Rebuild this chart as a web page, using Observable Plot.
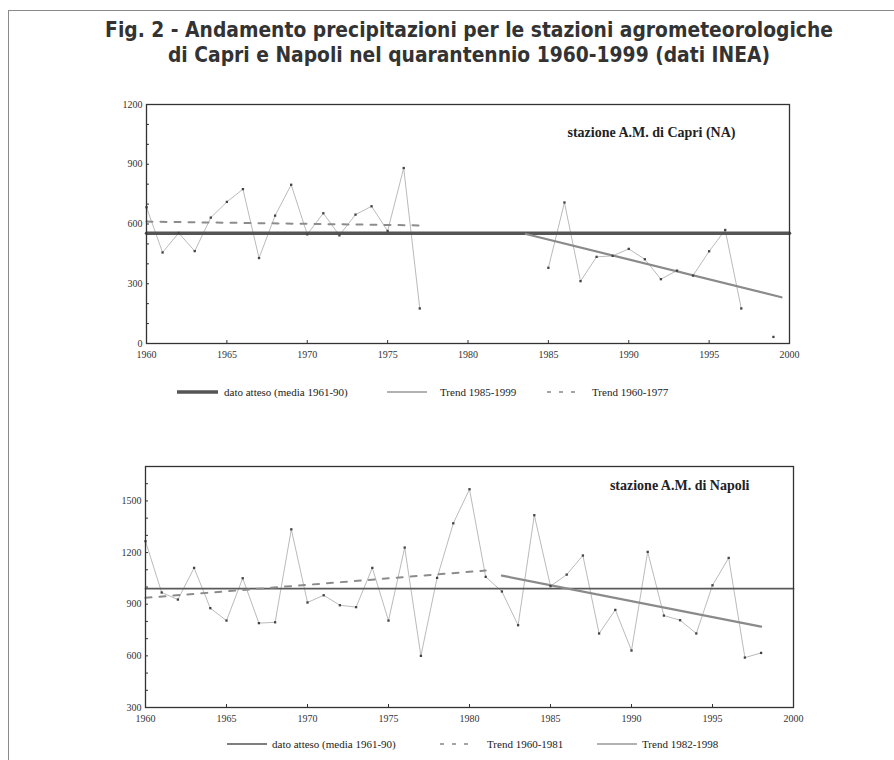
<!DOCTYPE html>
<html><head><meta charset="utf-8">
<script src="https://cdn.jsdelivr.net/npm/d3@7"></script>
<script src="https://cdn.jsdelivr.net/npm/@observablehq/plot@0.6"></script>
<style>
body{margin:0;width:894px;height:760px;position:relative;background:#fff;overflow:hidden;font-family:"Liberation Serif","Times New Roman",serif}
#border{position:absolute;left:8px;top:10px;width:900px;height:800px;border-left:1.5px solid #8a8a8a;border-top:1.5px solid #8a8a8a}
#title{position:absolute;left:22px;width:894px;top:18px;text-align:center;font-family:"DejaVu Sans Condensed","Liberation Sans Narrow",sans-serif;font-stretch:condensed;font-weight:bold;font-size:20.8px;line-height:25px;color:#333}
.chart{position:absolute;left:0}
.leg{position:absolute;font-size:11px;color:#222;white-space:nowrap;line-height:12px}
.sw{position:absolute}
</style></head>
<body>
<div id="border"></div>
<div id="title">Fig. 2 - Andamento precipitazioni per le stazioni agrometeorologiche<br>di Capri e Napoli nel quarantennio 1960-1999 (dati INEA)</div>
<div id="top" class="chart" style="top:90px"></div>
<div id="bot" class="chart" style="top:450px"></div>

<svg class="sw" style="left:0;top:0" width="894" height="760" id="legsvg"></svg>
<div class="leg" style="left:224px;top:386px">dato atteso (media 1961-90)</div>
<div class="leg" style="left:440px;top:386px">Trend 1985-1999</div>
<div class="leg" style="left:592px;top:386px">Trend 1960-1977</div>
<div class="leg" style="left:272px;top:738px">dato atteso (media 1961-90)</div>
<div class="leg" style="left:487px;top:738px">Trend 1960-1981</div>
<div class="leg" style="left:642px;top:738px">Trend 1982-1998</div>

<script>
// ---- data ----
const years = [1960,1961,1962,1963,1964,1965,1966,1967,1968,1969,1970,1971,1972,1973,1974,1975,1976,1977,1978,1979,1980,1981,1982,1983,1984,1985,1986,1987,1988,1989,1990,1991,1992,1993,1994,1995,1996,1997,1998,1999];
const capri = [684,457,555,464,632,711,775,429,642,797,548,654,543,647,689,565,881,176,null,null,null,null,null,null,null,380,708,313,435,440,475,423,323,366,341,463,570,176,null,33];
const napoli = [1266,968,927,1111,877,805,1051,790,795,1335,910,952,894,883,1111,805,1229,600,1053,1370,1568,1059,974,778,1417,1005,1072,1183,730,867,631,1204,834,807,730,1010,1169,590,617,null];

const capriMeanYears = [1960,2000], capriMeanValues = [553,553];
const capriTrendAYears = [1960,1977], capriTrendAValues = [612,593];
const capriTrendBYears = [1983.6,1999.5], capriTrendBValues = [550,232];
const napoliMeanYears = [1960,2000], napoliMeanValues = [991,991];
const napoliTrendAYears = [1960,1981], napoliTrendAValues = [937,1096];
const napoliTrendBYears = [1982,1998], napoliTrendBValues = [1066,770];

const xTicks = [1960,1965,1970,1975,1980,1985,1990,1995,2000];
const capriYTicks = [0,300,600,900,1200];
const capriYMinor = [100,200,400,500,700,800,1000,1100];
const napoliYTicks = [300,600,900,1200,1500];
const napoliYMinor = [400,500,700,800,1000,1100,1300,1400,1600];

const capriLabel = "stazione A.M. di Capri (NA)";
const napoliLabel = "stazione A.M. di Napoli";

const pts = (xs, ys) => xs.map((x,i)=>({x, y: ys[i]}));
const serif = "Liberation Serif, Times New Roman, serif";

function chart({series, ydomain, yTicks, yMinor, mean, meanStyle, trendA, trendB, label, labelDx, labelDy, height, mt, mb, ml, mr}) {
  const data = pts(years, series);
  const innerH = height - mt - mb, innerW = 894 - ml - mr;
  return Plot.plot({
    width: 894, height, marginTop: mt, marginBottom: mb, marginLeft: ml, marginRight: mr,
    style: {fontFamily: serif, fontSize: "10px", color: "#333", background: "transparent"},
    x: {domain: [1960, 2000], label: null},
    y: {domain: ydomain, label: null},
    marks: [
      Plot.line(data, {x: "x", y: "y", stroke: "#a8a8a8", strokeWidth: 0.8}),
      Plot.line(mean, {x: "x", y: "y", ...meanStyle}),
      Plot.line(trendA, {x: "x", y: "y", stroke: "#8c8c8c", strokeWidth: 2, strokeDasharray: "6,8"}),
      Plot.line(trendB, {x: "x", y: "y", stroke: "#8a8a8a", strokeWidth: 2.2}),
      Plot.dot(data.filter(d => d.y != null), {x: "x", y: "y", symbol: "square", r: 1.3, fill: "#444", stroke: "none"}),
      Plot.tickX(xTicks, {x: d => d, stroke: "#333", insetTop: innerH - 3}),
      Plot.tickY(yMinor.concat(yTicks), {y: d => d, stroke: "#333", insetRight: innerW - 3}),
      Plot.frame({stroke: "#333", strokeWidth: 1.3}),
      Plot.axisX(xTicks, {tickSize: 0, tickPadding: 7, tickFormat: d => String(d), fontSize: 10, fill: "#333", label: null}),
      Plot.axisY(yTicks, {tickSize: 0, tickPadding: 4, tickFormat: d => String(d), fontSize: 10, fill: "#333", label: null}),
      Plot.text([label], {text: d => d, frameAnchor: "top-right", dx: labelDx, dy: labelDy, textAnchor: "end", lineAnchor: "middle", fontWeight: "bold", fontSize: 14, fontFamily: serif, fill: "#222"})
    ]
  });
}

document.getElementById("top").append(chart({
  series: capri, ydomain: [0, 1200], yTicks: capriYTicks, yMinor: capriYMinor,
  mean: pts(capriMeanYears, capriMeanValues), meanStyle: {stroke: "#555", strokeWidth: 3.5},
  trendA: pts(capriTrendAYears, capriTrendAValues), trendB: pts(capriTrendBYears, capriTrendBValues),
  label: capriLabel, labelDx: -54, labelDy: 28,
  height: 280, mt: 14, mb: 27, ml: 146, mr: 105
}));

document.getElementById("bot").append(chart({
  series: napoli, ydomain: [300, 1700], yTicks: napoliYTicks, yMinor: napoliYMinor,
  mean: pts(napoliMeanYears, napoliMeanValues), meanStyle: {stroke: "#5a5a5a", strokeWidth: 1.8},
  trendA: pts(napoliTrendAYears, napoliTrendAValues), trendB: pts(napoliTrendBYears, napoliTrendBValues),
  label: napoliLabel, labelDx: -44, labelDy: 19,
  height: 290, mt: 16, mb: 33, ml: 145, mr: 101
}));

// legend swatches
const lg = d3.select("#legsvg");
const swatches = [
  {x1:177,x2:218,y:392,stroke:"#555",w:3.5,dash:null},
  {x1:387,x2:427,y:392,stroke:"#999",w:1.5,dash:null},
  {x1:547,x2:578,y:392,stroke:"#888",w:1.5,dash:"4,8"},
  {x1:227,x2:267,y:744,stroke:"#555",w:1.5,dash:null},
  {x1:440,x2:472,y:744,stroke:"#888",w:1.5,dash:"4,8"},
  {x1:597,x2:637,y:744,stroke:"#999",w:1.5,dash:null}
];
lg.selectAll("line").data(swatches).join("line")
  .attr("x1", d=>d.x1).attr("x2", d=>d.x2).attr("y1", d=>d.y).attr("y2", d=>d.y)
  .attr("stroke", d=>d.stroke).attr("stroke-width", d=>d.w).attr("stroke-dasharray", d=>d.dash);
</script>
</body></html>
